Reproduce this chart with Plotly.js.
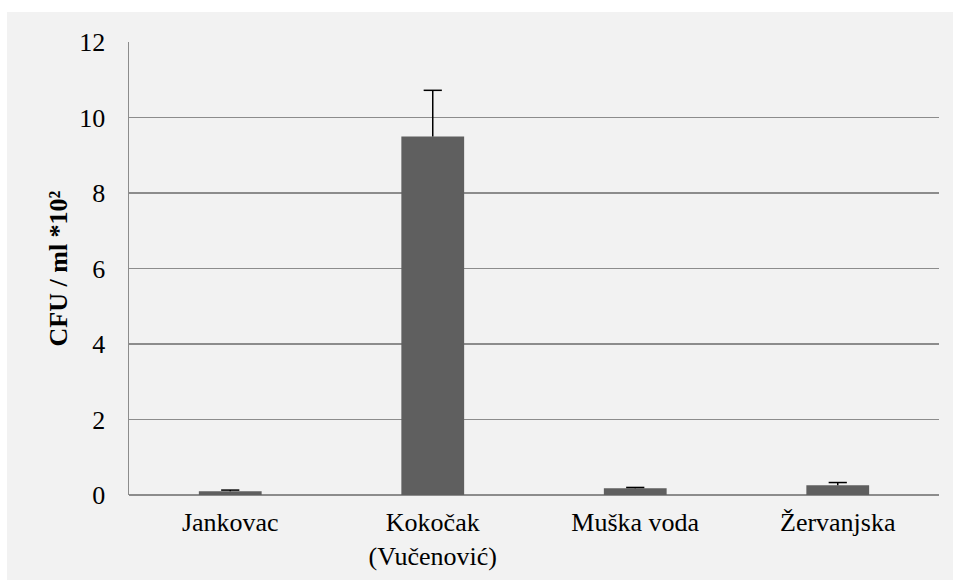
<!DOCTYPE html>
<html>
<head>
<meta charset="utf-8">
<script src="https://cdn.plot.ly/plotly-3.0.1.min.js"></script>
<style>html,body{margin:0;padding:0;background:#fff;}#chart{width:953px;height:580px;}</style>
</head>
<body>
<div id="chart"></div>
<script>
const categories = ["Jankovac", "Kokočak<br>(Vučenović)", "Muška voda", "Žervanjska"];
const values = [0.1, 9.5, 0.18, 0.26];
const errorsPlus = [0.03, 1.22, 0.02, 0.07];
const yTicks = [0, 2, 4, 6, 8, 10, 12];
const yTitle = "CFU / ml *10²";

const L = 129, R = 14, T = 42, B = 85, W = 953, H = 580;
const pw = W - L - R, ph = H - T - B;
const FONT = 'Liberation Serif, Times New Roman, serif';

const bars = {
  type: 'bar',
  x: categories,
  y: values,
  marker: {color: '#5f5f5f'},
  width: 0.31,
  error_y: {type: 'data', symmetric: false, array: errorsPlus, arrayminus: values.map(() => 0), color: '#000', thickness: 1.5, width: 0}
};
const caps = {
  type: 'scatter', mode: 'markers',
  x: categories,
  y: values.map((v, i) => v + errorsPlus[i]),
  marker: {symbol: 'line-ew', size: 13, line: {color: '#000', width: 1.5}},
  hoverinfo: 'skip'
};

const layout = {
  width: W, height: H,
  margin: {l: L, r: R, t: T, b: B, pad: 0},
  paper_bgcolor: '#ffffff',
  plot_bgcolor: '#ffffff',
  showlegend: false,
  font: {family: FONT, color: '#000', size: 26},
  xaxis: {
    showgrid: false, zeroline: false, showline: false,
    ticks: '', tickfont: {family: FONT, size: 26},
    ticklabelstandoff: 9
  },
  yaxis: {
    range: [0, 12], tickvals: yTicks, ticktext: yTicks.map(String),
    showgrid: true, gridcolor: '#8c8c8c', gridwidth: 1.5,
    zeroline: true, zerolinecolor: '#8c8c8c', zerolinewidth: 1.5,
    showline: true, linecolor: '#8c8c8c', linewidth: 1.5,
    ticks: '', tickfont: {family: FONT, size: 26},
    ticklabelstandoff: 17,
    title: {text: yTitle, font: {size: 26, family: FONT, weight: 'bold'}, standoff: 4}
  },
  shapes: [{
    type: 'rect', xref: 'paper', yref: 'paper', layer: 'below',
    x0: (7 - L) / pw, x1: (W - L) / pw, y0: (T + ph - H) / ph, y1: (T + ph - 12) / ph,
    fillcolor: '#f2f2f2', line: {width: 0}
  }]
};

Plotly.newPlot('chart', [bars, caps], layout, {displayModeBar: false, staticPlot: true});
</script>
</body>
</html>
